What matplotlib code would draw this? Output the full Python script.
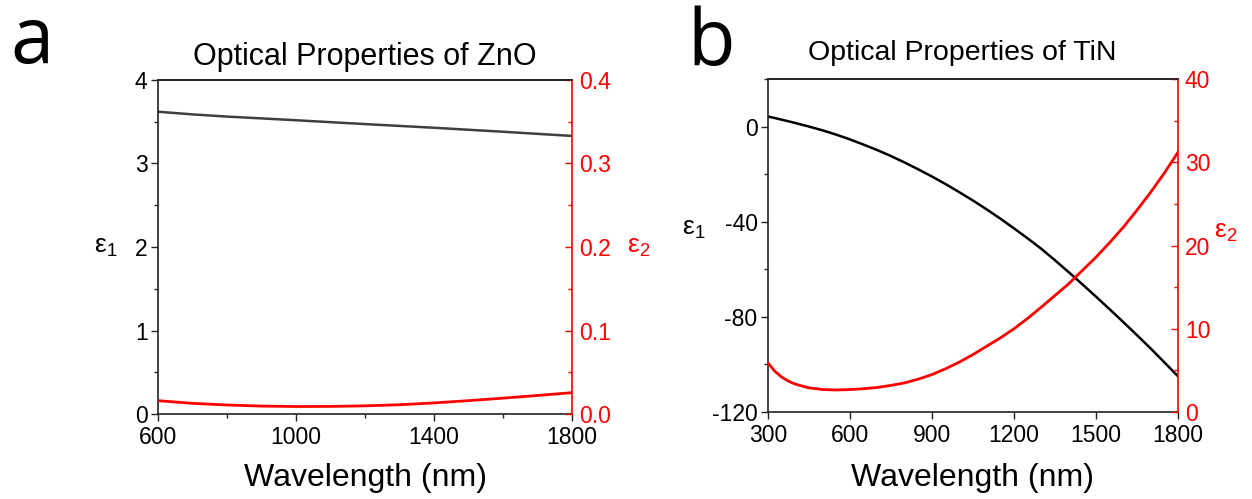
import numpy as np
import matplotlib
matplotlib.use('Agg')
from matplotlib import pyplot as plt
from matplotlib.ticker import MultipleLocator

plt.rcParams['font.family'] = ['Liberation Sans', 'DejaVu Sans']
plt.rcParams['mathtext.fontset'] = 'custom'
plt.rcParams['mathtext.rm'] = 'Liberation Sans'
plt.rcParams['mathtext.it'] = 'Liberation Sans'
plt.rcParams['axes.unicode_minus'] = False

RED = '#ff0000'

# ZnO permittivity
zno_wl = [600, 700, 800, 900, 1000, 1100, 1200, 1300, 1400, 1500, 1600, 1700, 1800]
zno_eps1 = [3.62, 3.588, 3.562, 3.540, 3.518, 3.495, 3.472, 3.450, 3.428, 3.404, 3.380, 3.355, 3.330]
zno_eps2 = [0.0160, 0.0128, 0.0108, 0.0095, 0.0090, 0.0091, 0.0098, 0.0111, 0.0133, 0.0160, 0.0190, 0.0222, 0.0256]

# TiN permittivity
tin_wl = [300, 325, 350, 375, 400, 450, 500, 550, 600, 650, 700, 750, 800, 850, 900, 950,
          1000, 1050, 1100, 1150, 1200, 1250, 1300, 1350, 1400, 1450, 1500, 1550, 1600,
          1650, 1700, 1750, 1800]
tin_eps1 = [4.2, 3.6, 2.9, 2.2, 1.5, 0.0, -1.6, -3.4, -5.4, -7.6, -9.9, -12.4, -15.1, -18.0,
            -21.0, -24.2, -27.6, -31.1, -34.8, -38.7, -42.8, -47.0, -51.4, -56.2, -61.2,
            -66.3, -71.5, -76.8, -82.2, -87.7, -93.3, -99.1, -105.0]
tin_eps2 = [5.9, 4.9, 4.2, 3.7, 3.35, 2.9, 2.7, 2.65, 2.7, 2.8, 2.95, 3.2, 3.5, 3.95, 4.5, 5.2,
            6.0, 6.9, 7.9, 8.9, 10.0, 11.25, 12.6, 14.0, 15.4, 17.0, 18.6, 20.35, 22.2,
            24.25, 26.4, 28.7, 31.2]


def style_axes(ax, ax2):
    for a in (ax, ax2):
        a.spines['top'].set_color('#222222')
    ax.spines['left'].set_color('#222222')
    ax.spines['bottom'].set_color('#222222')
    ax.spines['right'].set_visible(False)
    ax2.spines['left'].set_visible(False)
    ax2.spines['bottom'].set_visible(False)
    ax2.spines['right'].set_color(RED)
    for a in (ax, ax2):
        for s in a.spines.values():
            s.set_linewidth(1.2)
    ax.tick_params(which='major', direction='out', length=5, width=1.0,
                   labelsize=16.5, pad=2.5, colors='#222222', labelcolor='black')
    ax.tick_params(which='minor', direction='out', length=3, width=1.0, colors='#222222')
    ax.tick_params(axis='x', pad=3.8)
    ax.tick_params(top=False, right=False)
    ax2.tick_params(which='major', direction='in', length=5, width=1.0,
                    labelsize=16.5, pad=5, colors=RED)
    ax2.tick_params(which='minor', direction='in', length=3, width=1.0, colors=RED)


fig = plt.figure(figsize=(12.52, 4.99), dpi=100)

# panel a: ZnO
ax0 = fig.add_axes([0.1262, 0.1703, 0.3307, 0.6694])
ax0r = ax0.twinx()
ax0.plot(zno_wl, zno_eps1, color='#3f3f3f', lw=1.8)
ax0r.plot(zno_wl, zno_eps2, color=RED, lw=2.0)
ax0.set_xlim(600, 1800)
ax0.set_ylim(0, 4)
ax0r.set_ylim(0, 0.4)
ax0.set_xticks([600, 1000, 1400, 1800])
ax0.set_xticks([800, 1200, 1600], minor=True)
ax0.yaxis.set_major_locator(MultipleLocator(1))
ax0.yaxis.set_minor_locator(MultipleLocator(0.5))
ax0r.yaxis.set_major_locator(MultipleLocator(0.1))
ax0r.yaxis.set_minor_locator(MultipleLocator(0.05))
ax0r.yaxis.set_major_formatter(plt.FormatStrFormatter('%.1f'))
style_axes(ax0, ax0r)
ax0.text(0.5, 1.045, 'Optical Properties of ZnO', transform=ax0.transAxes,
         ha='center', va='baseline', fontsize=22)
ax0.set_xlabel('Wavelength (nm)', fontsize=23)
ax0.xaxis.set_label_coords(0.5, -0.147)
ax0.set_ylabel(r'$\mathregular{ε_1}$', fontsize=19, rotation=0, va='center', ha='center')
ax0.yaxis.set_label_coords(-0.126, 0.5)
ax0r.set_ylabel(r'$\mathregular{ε_2}$', fontsize=19, rotation=0, va='center', ha='center', color=RED)
ax0r.yaxis.set_label_coords(1.16, 0.5)

# panel b: TiN
ax1 = fig.add_axes([0.6134, 0.1743, 0.3275, 0.6674])
ax1r = ax1.twinx()
ax1.plot(tin_wl, tin_eps1, color='black', lw=1.8)
ax1r.plot(tin_wl, tin_eps2, color=RED, lw=2.0)
ax1.set_xlim(300, 1800)
ax1.set_ylim(-120, 20)
ax1r.set_ylim(0, 40)
ax1.xaxis.set_major_locator(MultipleLocator(300))
ax1.yaxis.set_major_locator(MultipleLocator(40))
ax1.yaxis.set_minor_locator(MultipleLocator(20))
ax1r.yaxis.set_major_locator(MultipleLocator(10))
ax1r.yaxis.set_minor_locator(MultipleLocator(5))
style_axes(ax1, ax1r)
ax1.text(0.475, 1.057, 'Optical Properties of TiN', transform=ax1.transAxes,
         ha='center', va='baseline', fontsize=20.5)
ax1.set_xlabel('Wavelength (nm)', fontsize=23)
ax1.xaxis.set_label_coords(0.5, -0.153)
ax1.set_ylabel(r'$\mathregular{ε_1}$', fontsize=19, rotation=0, va='center', ha='center')
ax1.yaxis.set_label_coords(-0.18, 0.55)
ax1r.set_ylabel(r'$\mathregular{ε_2}$', fontsize=19, rotation=0, va='center', ha='center', color=RED)
ax1r.yaxis.set_label_coords(1.115, 0.54)

fig.text(0.008, 0.874, 'a', fontsize=56, family=['Open Sans', 'DejaVu Sans'], va='baseline')
fig.text(0.549, 0.870, 'b', fontsize=56, family=['Open Sans', 'DejaVu Sans'], va='baseline')

fig.savefig('out.png', dpi=100)
